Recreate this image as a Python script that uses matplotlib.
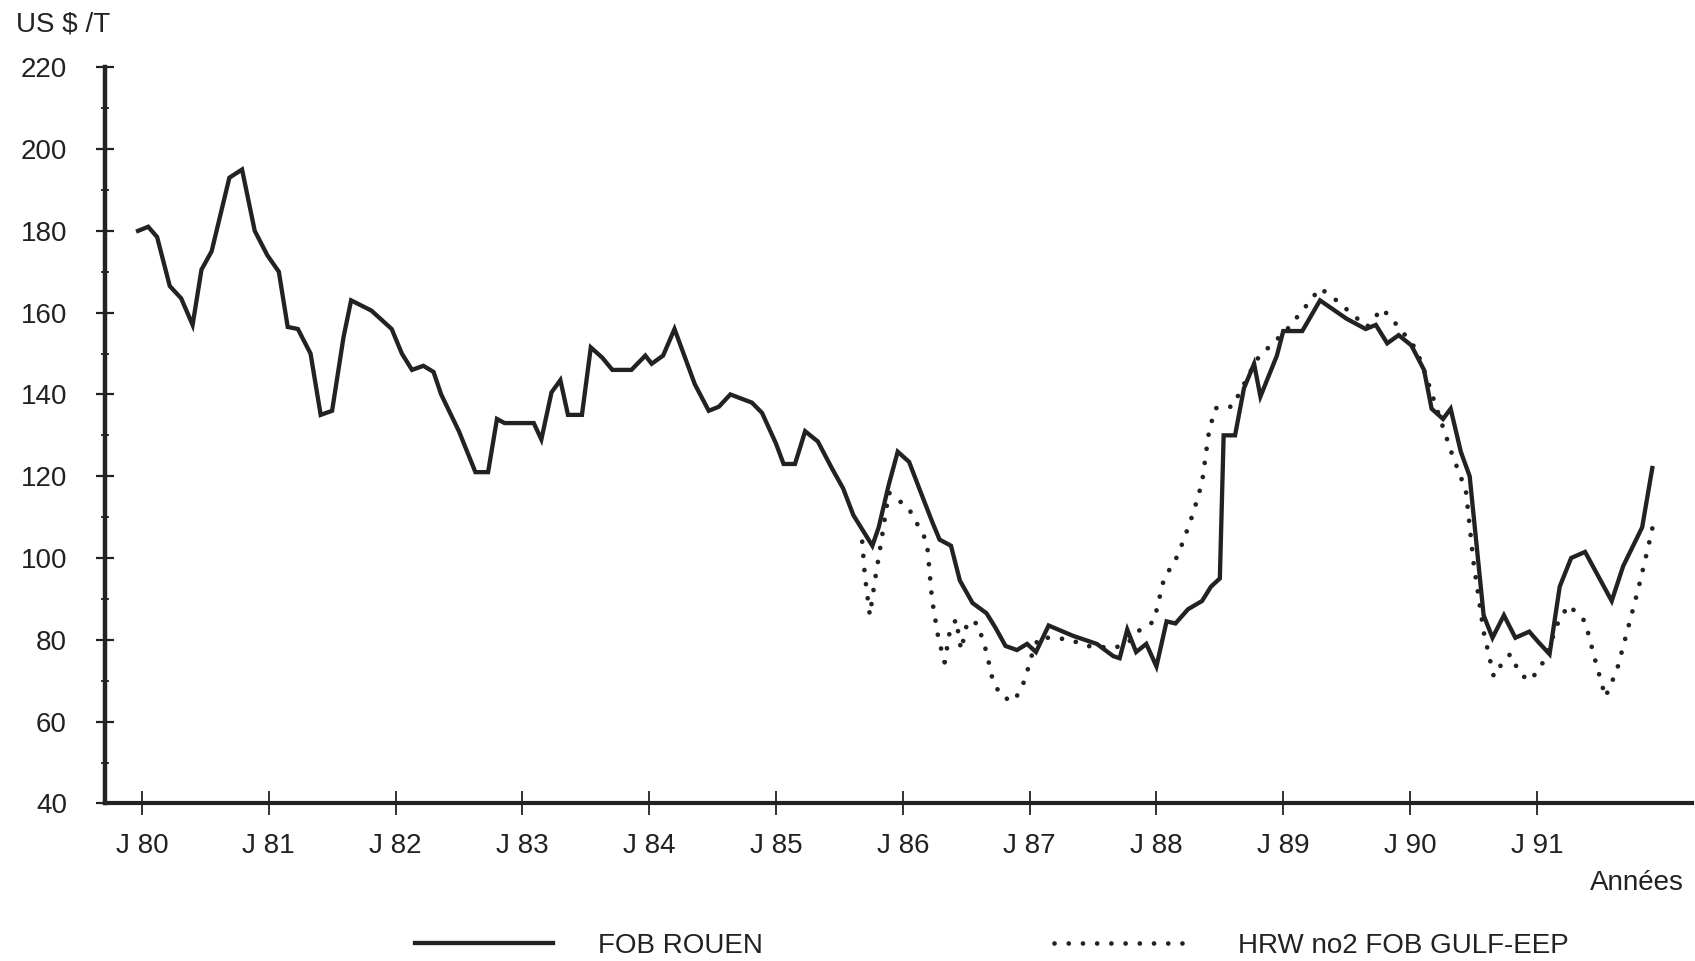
import numpy as np
import matplotlib.pyplot as plt
from matplotlib.ticker import MultipleLocator, FixedLocator

plt.rcParams['font.family'] = ['Liberation Sans', 'DejaVu Sans']

# time in decimal years, prices in US$/T
rouen_t = [1979.97, 1980.05, 1980.12, 1980.22, 1980.31, 1980.40, 1980.47, 1980.55, 1980.69, 1980.79,
           1980.89, 1980.99, 1981.08, 1981.15, 1981.23, 1981.33, 1981.41, 1981.50, 1981.59, 1981.65,
           1981.81, 1981.97, 1982.05, 1982.13, 1982.22, 1982.30, 1982.36, 1982.50, 1982.63, 1982.73,
           1982.80, 1982.86, 1983.09, 1983.15, 1983.23, 1983.30, 1983.36, 1983.47, 1983.54, 1983.63,
           1983.71, 1983.86, 1983.97, 1984.02, 1984.11, 1984.20, 1984.36, 1984.47, 1984.55, 1984.64,
           1984.81, 1984.89, 1985.00, 1985.06, 1985.15, 1985.23, 1985.33, 1985.44, 1985.53, 1985.61,
           1985.70, 1985.76, 1985.81, 1985.89, 1985.96, 1986.05, 1986.13, 1986.23, 1986.29, 1986.38,
           1986.45, 1986.55, 1986.66, 1986.73, 1986.81, 1986.90, 1986.98, 1987.05, 1987.15, 1987.34,
           1987.53, 1987.66, 1987.71, 1987.77, 1987.84, 1987.92, 1988.00, 1988.08, 1988.15, 1988.25,
           1988.36, 1988.43, 1988.50, 1988.53, 1988.62, 1988.69, 1988.77, 1988.82, 1988.95, 1989.00,
           1989.15, 1989.29, 1989.50, 1989.65, 1989.73, 1989.82, 1989.91, 1990.01, 1990.11, 1990.17,
           1990.26, 1990.32, 1990.40, 1990.47, 1990.58, 1990.65, 1990.74, 1990.83, 1990.94, 1991.01,
           1991.10, 1991.18, 1991.27, 1991.38, 1991.59, 1991.68, 1991.83, 1991.91]
rouen_price = [180, 181, 178.5, 166.5, 163.5, 157, 170.5, 175, 193, 195,
               180, 174, 170, 156.5, 156, 150, 135, 136, 154, 163,
               160.5, 156, 150, 146, 147, 145.5, 140, 131, 121, 121,
               134, 133, 133, 129, 140.5, 143.5, 135, 135, 151.5, 149,
               146, 146, 149.5, 147.5, 149.5, 156, 142.5, 136, 137, 140,
               138, 135.5, 128, 123, 123, 131, 128.5, 122, 117, 110.5,
               106, 103, 107.5, 118, 126, 123.5, 117, 109, 104.5, 103,
               94.5, 89, 86.5, 83, 78.5, 77.5, 79, 77, 83.5, 81,
               79, 76, 75.5, 82.5, 77, 79, 73.5, 84.5, 84, 87.5,
               89.5, 93, 95, 130, 130, 141.5, 147.5, 139.5, 149.5, 155.5,
               155.5, 163, 158.5, 156, 157, 152.5, 154.5, 152, 146, 136.5,
               134, 136.5, 126, 120, 86, 80.5, 86, 80.5, 82, 79.5,
               76.5, 93, 100, 101.5, 89.5, 98, 107.5, 122]

gulf_t = [1985.68, 1985.70, 1985.74, 1985.78, 1985.83, 1985.89, 1985.97, 1986.04, 1986.19, 1986.23,
          1986.28, 1986.33, 1986.37, 1986.42, 1986.46, 1986.51, 1986.59, 1986.66, 1986.71, 1986.78,
          1986.88, 1986.96, 1987.02, 1987.07, 1987.19, 1987.32, 1987.45, 1987.66, 1987.77, 1987.85,
          1987.98, 1988.06, 1988.15, 1988.21, 1988.29, 1988.36, 1988.41, 1988.46, 1988.50, 1988.60,
          1988.69, 1988.79, 1988.90, 1989.02, 1989.19, 1989.29, 1989.40, 1989.53, 1989.66, 1989.78,
          1989.91, 1990.05, 1990.12, 1990.20, 1990.33, 1990.44, 1990.50, 1990.58, 1990.66, 1990.73,
          1990.79, 1990.87, 1990.95, 1991.06, 1991.17, 1991.25, 1991.38, 1991.46, 1991.54, 1991.63,
          1991.72, 1991.80, 1991.88, 1991.93]
gulf_price = [104, 96, 86, 94.5, 104, 116, 114, 112.5, 104, 90,
              80.5, 74.5, 82, 85, 77.5, 84.5, 84, 77, 70, 66,
              65, 70, 76.5, 80.5, 80.5, 80, 78.5, 78, 79, 82,
              84.5, 95, 99.5, 104, 111, 118.5, 130, 136.5, 137, 137,
              142.5, 148.5, 152, 155.5, 162, 166, 163.5, 160, 156.5, 161,
              156.5, 151, 145, 137.5, 125.5, 116.5, 99, 82, 71, 74.5,
              76.5, 71.5, 70, 75, 84.5, 88.5, 84.5, 75, 66, 72.5,
              83, 92.5, 103, 110]

years = list(range(1980, 1992))
year_labels = ['J 80', 'J 81', 'J 82', 'J 83', 'J 84', 'J 85',
               'J 86', 'J 87', 'J 88', 'J 89', 'J 90', 'J 91']

ink = '#222222'
fs = 20

fig = plt.figure(figsize=(16.95, 9.61), dpi=100)
ax = fig.add_axes([0.062, 0.164, 0.936, 0.766])

ax.plot(rouen_t, rouen_price, color=ink, lw=3.1, solid_joinstyle='miter', label='FOB ROUEN')
ax.plot(gulf_t, gulf_price, color=ink, lw=3.4, linestyle=(0, (0.01, 3.0)),
        dash_capstyle='round', label='HRW no2 FOB GULF-EEP')

ax.set_xlim(1979.71, 1992.22)
ax.set_ylim(40, 220)

for s in ['top', 'right']:
    ax.spines[s].set_visible(False)
ax.spines['left'].set_linewidth(3.2)
ax.spines['bottom'].set_linewidth(3.0)
ax.spines['left'].set_color(ink)
ax.spines['bottom'].set_color(ink)

ax.xaxis.set_major_locator(FixedLocator(years))
ax.set_xticklabels(year_labels)
ax.yaxis.set_major_locator(MultipleLocator(20))
ax.yaxis.set_minor_locator(MultipleLocator(10))

ax.tick_params(axis='x', direction='inout', length=17, width=1.3, color=ink,
               labelsize=fs, labelcolor=ink, pad=13)
ax.tick_params(axis='y', which='major', direction='inout', length=13, width=1.6, color=ink,
               labelsize=fs, labelcolor=ink, pad=21)
ax.tick_params(axis='y', which='minor', direction='inout', length=6, width=1.3, color=ink)

fig.text(0.0095, 0.975, 'US $ /T', ha='left', va='center', fontsize=fs, color=ink)
fig.text(0.9935, 0.081, 'Années', ha='right', va='center', fontsize=fs, color=ink)

leg = ax.legend(loc='center', bbox_to_anchor=(0.585, 0.0156), bbox_transform=fig.transFigure,
                ncol=2, frameon=False, fontsize=fs, handlelength=5.0, handletextpad=1.6,
                columnspacing=10.5, labelcolor=ink)

fig.savefig('out.png', dpi=100)
